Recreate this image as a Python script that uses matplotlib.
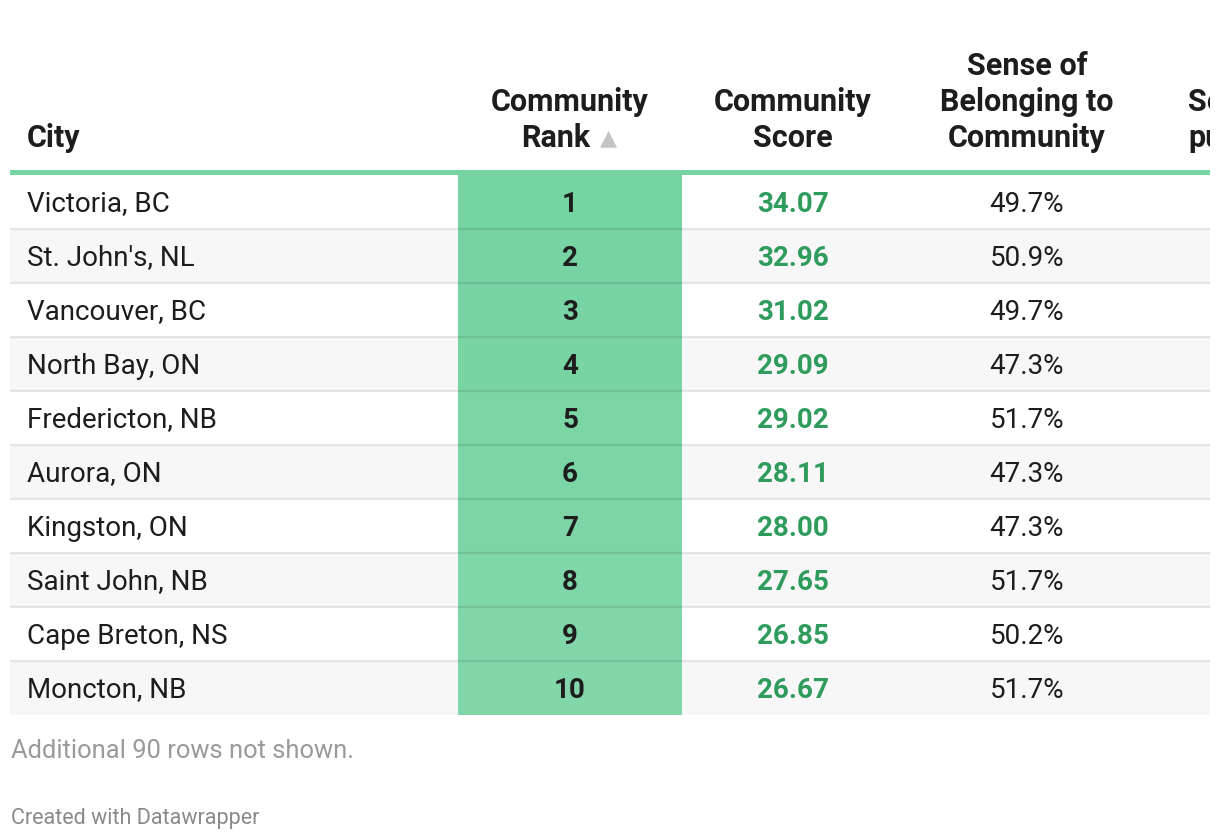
"""
Datawrapper-style table: top 10 Canadian cities by community rank.
Drawn in pixel coordinates on a single full-figure axes.
"""
import matplotlib
matplotlib.use('Agg')
import matplotlib.pyplot as plt
from matplotlib.colors import LinearSegmentedColormap, Normalize
from matplotlib.patches import Rectangle

CITIES = ['Victoria, BC', "St. John's, NL", 'Vancouver, BC', 'North Bay, ON',
          'Fredericton, NB', 'Aurora, ON', 'Kingston, ON', 'Saint John, NB',
          'Cape Breton, NS', 'Moncton, NB']
RANKS = [1, 2, 3, 4, 5, 6, 7, 8, 9, 10]
SCORES = [34.07, 32.96, 31.02, 29.09, 29.02, 28.11, 28.00, 27.65, 26.85, 26.67]
BELONGING = [49.7, 50.9, 49.7, 47.3, 51.7, 47.3, 47.3, 51.7, 50.2, 51.7]
N_TOTAL = 100

HEADERS = [['City'], ['Community', 'Rank'], ['Community', 'Score'],
           ['Sense of', 'Belonging to', 'Community'], ['Sense of', 'purpose']]

W, H = 1220, 840
LEFT, RIGHT = 10, 1210
HEAD_Y = 170                       # top of the green header rule
ROW0, ROW_H = 175, 54
COL_X = [27, 570, 793, 1027, 1188]  # city: left edge, others: centres
RANK_X0, RANK_X1 = 458, 682

GREEN_RULE = '#76d4a3'
SCORE_COL = '#2f9c5d'
TXT = '#1d1d1d'
rank_cmap = LinearSegmentedColormap.from_list('rank', ['#76d3a2', '#f4fbf7'])
rank_norm = Normalize(1, N_TOTAL)

plt.rcParams['font.family'] = ['Roboto', 'DejaVu Sans']


def main():
    fig = plt.figure(figsize=(W / 100, H / 100), dpi=100)
    ax = fig.add_axes([0, 0, 1, 1])
    ax.set_xlim(0, W)
    ax.set_ylim(H, 0)
    ax.axis('off')
    # the table is cut at the right edge of the frame, like the embed
    frame = Rectangle((0, 0), RIGHT, H, transform=ax.transData)

    # row backgrounds and rank heat cells
    for i, rank in enumerate(RANKS):
        y0 = ROW0 + i * ROW_H
        if i % 2 == 1:
            ax.add_patch(Rectangle((LEFT, y0), RIGHT - LEFT, ROW_H,
                                   color='#f7f7f7', lw=0, zorder=1))
        ax.add_patch(Rectangle((RANK_X0, y0), RANK_X1 - RANK_X0, ROW_H,
                               color=rank_cmap(rank_norm(rank)), lw=0, zorder=2))
        if i > 0:
            ax.plot([LEFT, RIGHT], [y0, y0], color='black', alpha=0.09,
                    lw=1.6, solid_capstyle='butt', zorder=3)

    # header rule
    ax.add_patch(Rectangle((LEFT, HEAD_Y), RIGHT - LEFT, 5, color=GREEN_RULE,
                           lw=0, zorder=4))

    # headers (bottom aligned, 36 px line pitch)
    hkw = dict(fontsize=22, fontweight='bold', color=TXT, va='baseline', zorder=5)
    for c, lines in enumerate(HEADERS):
        n = len(lines)
        for k, line in enumerate(lines):
            yb = 147 - (n - 1 - k) * 36
            if c == 0:
                ax.text(COL_X[c], yb, line, ha='left', **hkw)
            elif c == 4:
                t = ax.text(COL_X[c], yb, line, ha='left', **hkw)
                t.set_clip_on(True)
                t.set_clip_path(frame)
            elif c == 1 and line == 'Rank':
                ax.text(COL_X[c] - 14, yb, line, ha='center', **hkw)
                ax.text(COL_X[c] + 39, yb - 3, '\u25b2', ha='center', va='baseline',
                        fontsize=16, color='#c4c4c4', family='DejaVu Sans', zorder=5)
            else:
                ax.text(COL_X[c], yb, line, ha='center', **hkw)

    # body
    for i in range(len(CITIES)):
        yc = ROW0 + i * ROW_H + ROW_H / 2 - 1
        ax.text(COL_X[0], yc, CITIES[i], ha='left', va='center_baseline',
                fontsize=20, color=TXT, zorder=5)
        ax.text(COL_X[1], yc, f'{RANKS[i]}', ha='center', va='center_baseline',
                fontsize=20, fontweight='bold', color=TXT, zorder=5)
        ax.text(COL_X[2], yc, f'{SCORES[i]:.2f}', ha='center', va='center_baseline',
                fontsize=20, fontweight='bold', color=SCORE_COL, zorder=5)
        ax.text(COL_X[3], yc, f'{BELONGING[i]:.1f}%', ha='center',
                va='center_baseline', fontsize=20, color=TXT, zorder=5)

    # footer
    ax.text(11, 758, f'Additional {N_TOTAL - len(CITIES)} rows not shown.',
            ha='left', va='baseline', fontsize=18.4, color='#9a9a9a')
    ax.text(11, 824, 'Created with Datawrapper', ha='left', va='baseline',
            fontsize=15.5, color='#8a8a8a')

    fig.savefig('out.png', dpi=100)
    plt.close(fig)


if __name__ == '__main__':
    main()
